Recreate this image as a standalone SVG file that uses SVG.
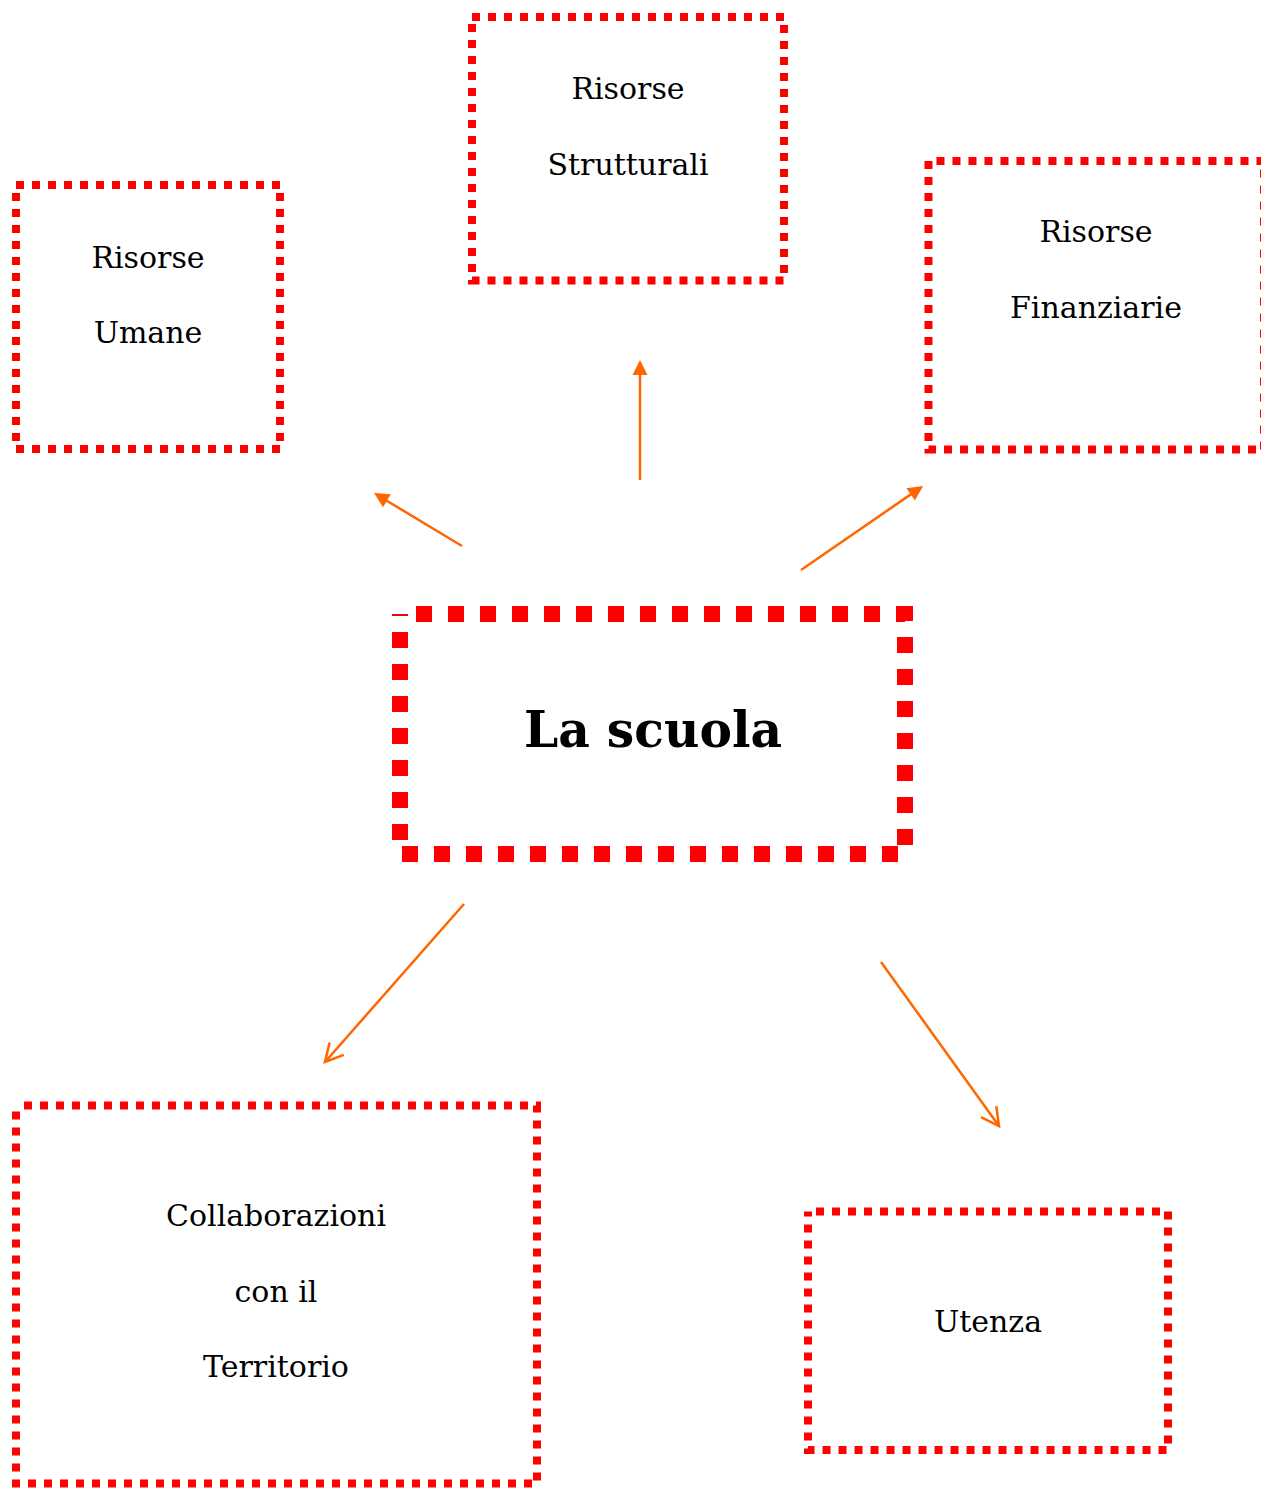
<svg xmlns="http://www.w3.org/2000/svg" width="1261" height="1488" viewBox="0 0 1261 1488">
<style>
.box{fill:none;stroke:#ff0000;stroke-width:8;stroke-dasharray:8 8}
.main{fill:none;stroke:#ff0000;stroke-width:16;stroke-dasharray:16 16;stroke-dashoffset:16}
.lbl{font-family:"DejaVu Serif","Liberation Serif",serif;font-size:30px;fill:#000;text-anchor:middle}
.title{font-family:"DejaVu Serif","Liberation Serif",serif;font-size:50px;font-weight:bold;fill:#000;text-anchor:middle}
.arr{fill:none;stroke:#ff6600;stroke-width:2.5}
</style>
<defs>
<marker id="fill" markerUnits="userSpaceOnUse" markerWidth="16" markerHeight="16" viewBox="0 0 16 16" refX="5" refY="8" orient="auto" overflow="visible">
<path d="M0,0.5 L15,8 L0,15.5 Z" fill="#ff6600"/>
</marker>
<marker id="open" markerUnits="userSpaceOnUse" markerWidth="22" markerHeight="22" viewBox="0 0 22 22" refX="17.7" refY="10" orient="auto" overflow="visible">
<path d="M0,0.6 L17.7,10 L0,19.4" fill="none" stroke="#ff6600" stroke-width="2.5"/>
</marker>
</defs>
<rect width="1261" height="1488" fill="#ffffff"/>
<g id="connectors">
<line class="arr" x1="462" y1="546" x2="382.6" y2="498.2" marker-end="url(#fill)"/>
<line class="arr" x1="640" y1="480" x2="640" y2="370" marker-end="url(#fill)"/>
<line class="arr" x1="801" y1="570" x2="914.8" y2="491.6" marker-end="url(#fill)"/>
<line class="arr" x1="464" y1="904" x2="325" y2="1062" marker-end="url(#open)"/>
<line class="arr" x1="881" y1="962" x2="999" y2="1126" marker-end="url(#open)"/>
</g>
<g id="node-scuola">
<rect class="main" x="400" y="614" width="505" height="240"/>
<text class="title" x="653" y="747" textLength="258" lengthAdjust="spacingAndGlyphs">La scuola</text>
</g>
<g id="node-umane">
<rect class="box" x="16" y="185" width="264" height="264"/>
<text class="lbl" x="148" y="268">Risorse</text>
<text class="lbl" x="148" y="343">Umane</text>
</g>
<g id="node-strutturali">
<rect class="box" x="472" y="17" width="312" height="263.5"/>
<text class="lbl" x="628" y="99">Risorse</text>
<text class="lbl" x="628" y="175">Strutturali</text>
</g>
<g id="node-finanziarie">
<rect class="box" x="928.5" y="161" width="335.5" height="288.5" style="stroke-dashoffset:8"/>
<text class="lbl" x="1096" y="242">Risorse</text>
<text class="lbl" x="1096" y="318">Finanziarie</text>
</g>
<g id="node-collaborazioni">
<rect class="box" x="16" y="1105.5" width="521" height="378" style="stroke-dashoffset:8"/>
<text class="lbl" x="276" y="1226">Collaborazioni</text>
<text class="lbl" x="276" y="1302">con il</text>
<text class="lbl" x="276" y="1377">Territorio</text>
</g>
<g id="node-utenza">
<rect class="box" x="808" y="1211.5" width="360" height="238.5" style="stroke-dashoffset:8"/>
<text class="lbl" x="988" y="1332">Utenza</text>
</g>
</svg>
